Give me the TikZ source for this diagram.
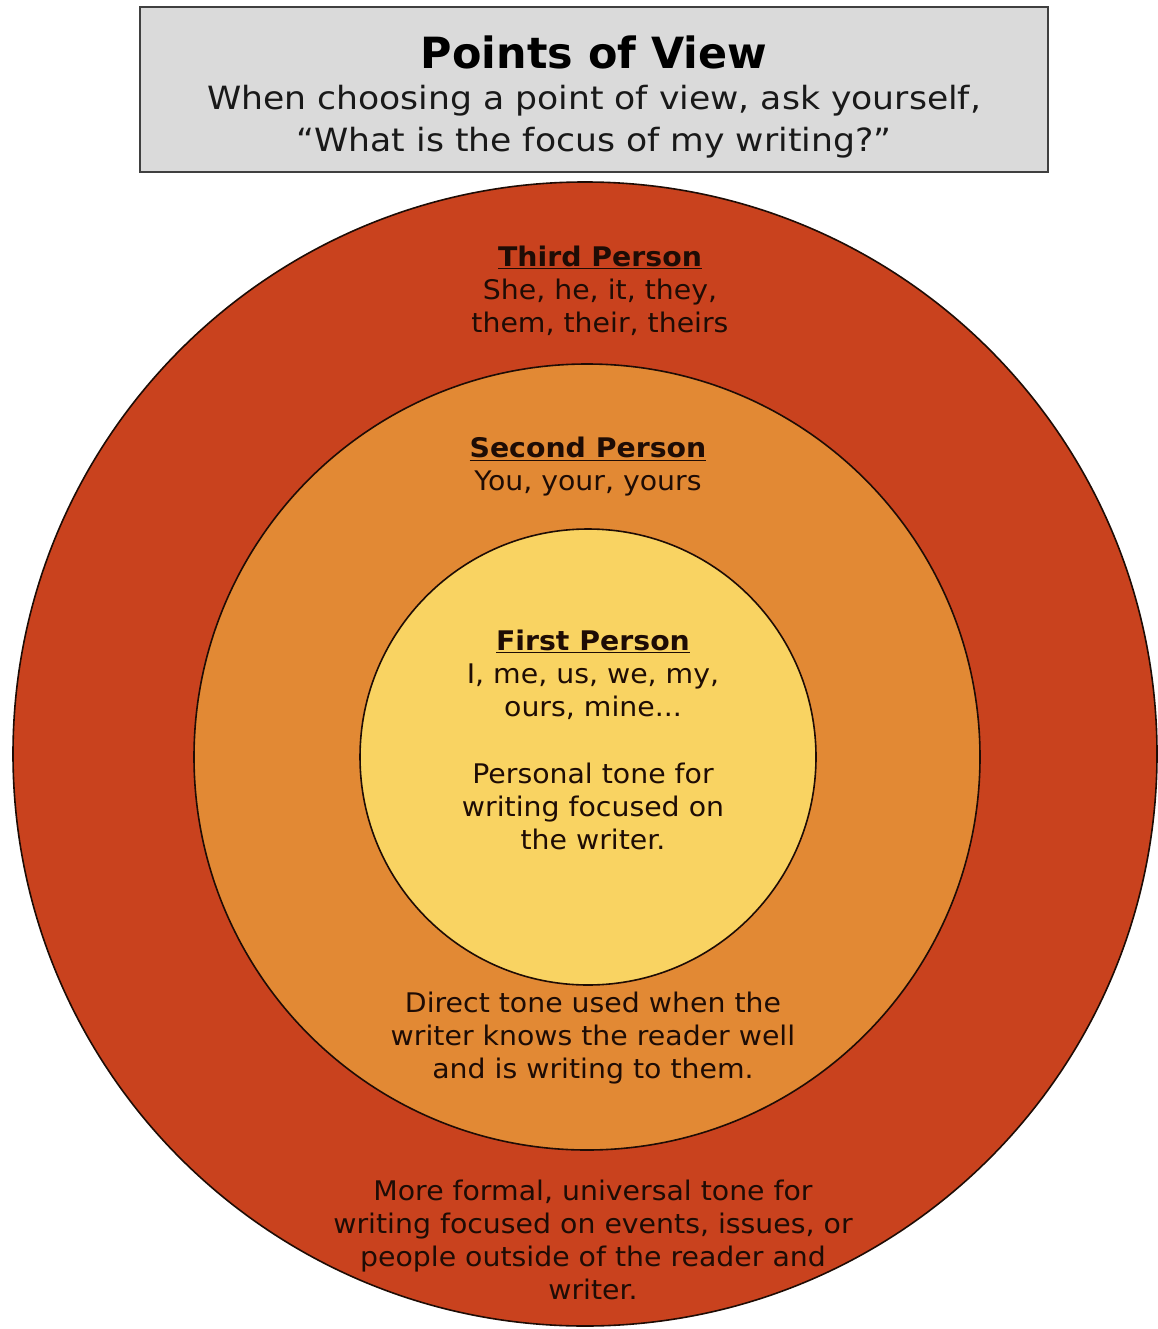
\documentclass[tikz,border=0pt]{standalone}
\usepackage{fontspec}
\setmainfont{DejaVu Sans}
\usepackage{tikz}

\definecolor{thirdred}{RGB}{201,66,30}
\definecolor{secondorange}{RGB}{226,137,52}
\definecolor{firstyellow}{RGB}{249,211,98}
\definecolor{titlegray}{RGB}{218,218,218}
\definecolor{inkbrown}{RGB}{30,12,5}

\begin{document}
\begin{tikzpicture}[x=1pt, y=-1pt]
\tikzset{ring/.style = {draw=inkbrown, line width=1.6pt},
  txt/.style = {align=center, text=inkbrown, inner sep=0pt, font=\fontsize{27}{33}\selectfont, xscale=1.05, transform shape}}
\useasboundingbox (0, 0) rectangle (1157, 1329);
% title box
\node [draw=black!75, line width=1.8pt, fill=titlegray, minimum width=908pt, minimum height=165pt] (title) at (594, 89.5) {};
\node [txt, text=black, xscale=0.95, font=\fontsize{43}{44}\selectfont\bfseries] (head) at (594, 52) {Points of View};
\node [txt, text=black!90, xscale=1.03, font=\fontsize{32}{42}\selectfont] (ask) at (594, 122) {When choosing a point of view, ask yourself,\\“What is the focus of my writing?”};
% rings
\draw [ring, fill=thirdred] (585, 754) circle (572);
\draw [ring, fill=secondorange] (587, 757) circle (393);
\draw [ring, fill=firstyellow] (588, 757) circle (228);
% third person
\node [txt] (third) at (600, 291) {\textbf{\underline{Third Person}}\\She, he, it, they,\\them, their, theirs};
\node [txt] (thirdtone) at (593, 1240) {More formal, universal tone for\\writing focused on events, issues, or\\people outside of the reader and\\writer.};
% second person
\node [txt] (second) at (588, 467) {\textbf{\underline{Second Person}}\\You, your, yours};
\node [txt] (secondtone) at (593, 1038) {Direct tone used when the\\writer knows the reader well\\and is writing to them.};
% first person
\node [txt] (first) at (593, 675) {\textbf{\underline{First Person}}\\I, me, us, we, my,\\ours, mine...};
\node [txt] (firsttone) at (593, 806) {Personal tone for\\writing focused on\\the writer.};
\end{tikzpicture}
\end{document}
